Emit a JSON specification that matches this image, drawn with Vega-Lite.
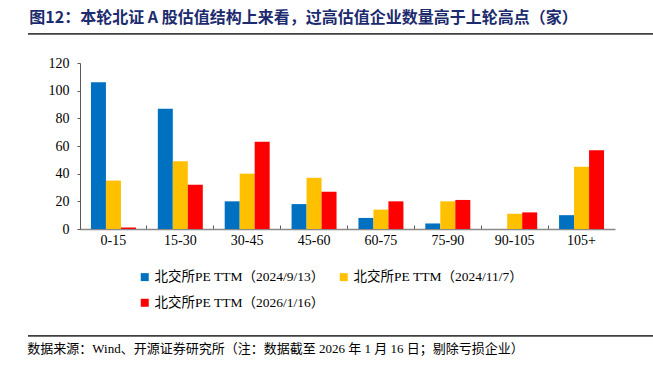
{
  "$schema": "https://vega.github.io/schema/vega-lite/v6.json",
  "padding": {"left": 27, "top": 10, "right": 5, "bottom": 5},
  "background": "white",
  "config": {
    "view": {"stroke": null},
    "font": "Liberation Serif"
  },
  "resolve": {"legend": {"color": "independent"}},
  "bounds": "flush",
  "center": true,
  "spacing": 29,
  "vconcat": [
    {
      "width": 639,
      "height": 1,
      "data": {"values": [{"line": "header"}]},
      "mark": {"type": "rule", "color": "#404040", "strokeWidth": 1.3},
      "encoding": {"y": {"datum": 0, "type": "quantitative", "scale": {"domain": [0, 1]}, "axis": null}},
      "view": {"fill": "#404040", "stroke": null},
      "title": {
        "text": "图12：本轮北证 A 股估值结构上来看，过高估值企业数量高于上轮高点（家）",
        "anchor": "start",
        "dx": 2,
        "offset": 7,
        "font": "Noto Sans CJK SC",
        "fontSize": 16,
        "fontWeight": "bold",
        "color": "#1c2a6e"
      }
    },
    {
      "width": 535,
      "height": 166,
      "data": {
        "values": [
          {"category": "0-15", "series": "北交所PE TTM（2024/9/13）", "value": 106},
          {"category": "0-15", "series": "北交所PE TTM（2024/11/7）", "value": 35},
          {"category": "0-15", "series": "北交所PE TTM（2026/1/16）", "value": 1},
          {"category": "15-30", "series": "北交所PE TTM（2024/9/13）", "value": 87},
          {"category": "15-30", "series": "北交所PE TTM（2024/11/7）", "value": 49},
          {"category": "15-30", "series": "北交所PE TTM（2026/1/16）", "value": 32},
          {"category": "30-45", "series": "北交所PE TTM（2024/9/13）", "value": 20},
          {"category": "30-45", "series": "北交所PE TTM（2024/11/7）", "value": 40},
          {"category": "30-45", "series": "北交所PE TTM（2026/1/16）", "value": 63},
          {"category": "45-60", "series": "北交所PE TTM（2024/9/13）", "value": 18},
          {"category": "45-60", "series": "北交所PE TTM（2024/11/7）", "value": 37},
          {"category": "45-60", "series": "北交所PE TTM（2026/1/16）", "value": 27},
          {"category": "60-75", "series": "北交所PE TTM（2024/9/13）", "value": 8},
          {"category": "60-75", "series": "北交所PE TTM（2024/11/7）", "value": 14},
          {"category": "60-75", "series": "北交所PE TTM（2026/1/16）", "value": 20},
          {"category": "75-90", "series": "北交所PE TTM（2024/9/13）", "value": 4},
          {"category": "75-90", "series": "北交所PE TTM（2024/11/7）", "value": 20},
          {"category": "75-90", "series": "北交所PE TTM（2026/1/16）", "value": 21},
          {"category": "90-105", "series": "北交所PE TTM（2024/9/13）", "value": 0},
          {"category": "90-105", "series": "北交所PE TTM（2024/11/7）", "value": 11},
          {"category": "90-105", "series": "北交所PE TTM（2026/1/16）", "value": 12},
          {"category": "105+", "series": "北交所PE TTM（2024/9/13）", "value": 10},
          {"category": "105+", "series": "北交所PE TTM（2024/11/7）", "value": 45},
          {"category": "105+", "series": "北交所PE TTM（2026/1/16）", "value": 57}
        ]
      },
      "mark": {"type": "bar"},
      "encoding": {
        "x": {
          "field": "category",
          "type": "nominal",
          "sort": null,
          "scale": {"paddingInner": 0, "paddingOuter": 0},
          "axis": {
            "title": null,
            "labelAngle": 0,
            "labelFont": "Liberation Serif",
            "labelFontSize": 14,
            "labelColor": "#000000",
            "labelPadding": 8,
            "bandPosition": 0,
            "tickSize": -4,
            "tickColor": "#595959",
            "domainColor": "#898989",
            "domainWidth": 1.5
          }
        },
        "xOffset": {
          "field": "series",
          "type": "nominal",
          "sort": null,
          "scale": {"paddingInner": 0, "paddingOuter": 0.73}
        },
        "y": {
          "field": "value",
          "type": "quantitative",
          "scale": {"domain": [0, 120]},
          "axis": {
            "title": null,
            "grid": false,
            "values": [0, 20, 40, 60, 80, 100, 120],
            "labelFont": "Liberation Serif",
            "labelFontSize": 14,
            "labelColor": "#000000",
            "labelPadding": 8,
            "tickSize": 3,
            "tickColor": "#595959",
            "domainColor": "#595959"
          }
        },
        "color": {
          "field": "series",
          "type": "nominal",
          "sort": null,
          "scale": {
            "domain": ["北交所PE TTM（2024/9/13）", "北交所PE TTM（2024/11/7）", "北交所PE TTM（2026/1/16）"],
            "range": ["#0070C0", "#FFC000", "#FF0000"]
          },
          "legend": {
            "title": null,
            "orient": "none",
            "legendX": 58,
            "legendY": 207,
            "direction": "horizontal",
            "columns": 2,
            "columnPadding": 12,
            "rowPadding": 11,
            "symbolType": "square",
            "symbolSize": 64,
            "symbolStrokeWidth": 0,
            "labelOffset": 3,
            "labelFont": "Liberation Serif, Noto Sans CJK SC",
            "labelFontSize": 13.5,
            "labelColor": "#000000",
            "labelLimit": 300
          }
        }
      }
    },
    {
      "width": 10,
      "height": 48,
      "data": {"values": []},
      "mark": "rect",
      "encoding": {}
    },
    {
      "width": 639,
      "height": 1,
      "data": {"values": [{"line": "footer"}]},
      "mark": {"type": "rule", "color": "#404040", "strokeWidth": 1.3},
      "encoding": {"y": {"datum": 0, "type": "quantitative", "scale": {"domain": [0, 1]}, "axis": null}},
      "view": {"fill": "#404040", "stroke": null},
      "title": {
        "text": "数据来源：Wind、开源证券研究所（注：数据截至 2026 年 1 月 16 日；剔除亏损企业）",
        "orient": "bottom",
        "anchor": "start",
        "offset": 6,
        "font": "Liberation Serif, Noto Sans CJK SC",
        "fontSize": 13,
        "fontWeight": "normal",
        "color": "#000000"
      }
    }
  ]
}
